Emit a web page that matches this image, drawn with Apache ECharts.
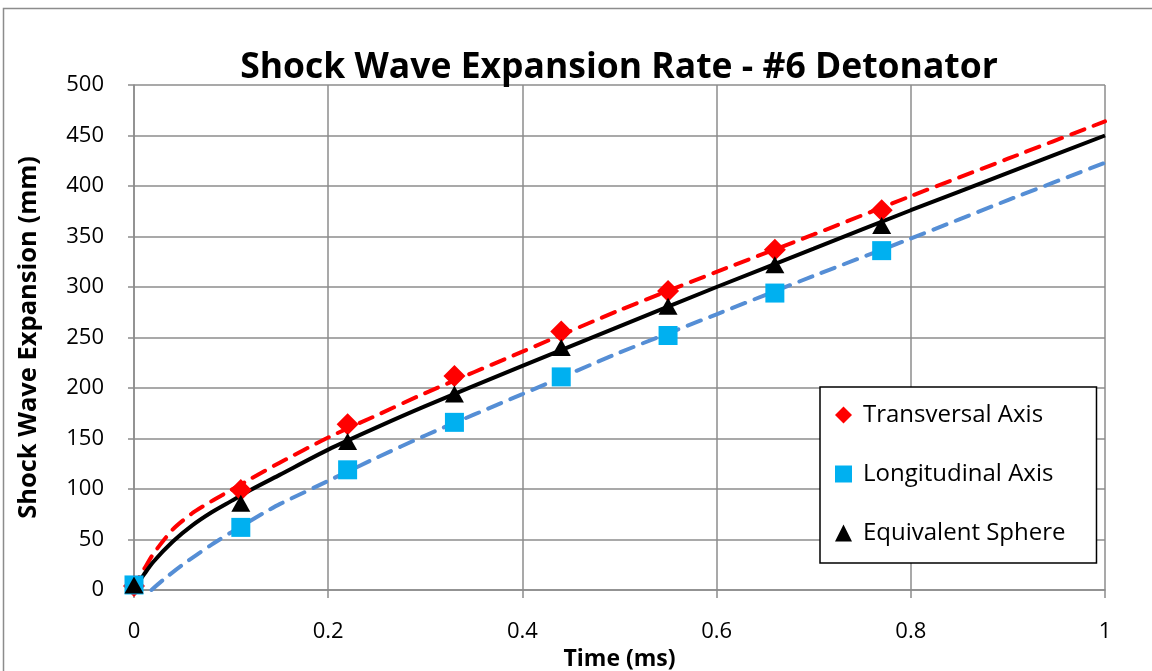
<!DOCTYPE html>
<html>
<head>
<meta charset="utf-8">
<script src="https://cdn.jsdelivr.net/npm/echarts@6/dist/echarts.min.js"></script>
<style>
html, body { margin: 0; padding: 0; background: #fff; }
#main { width: 1152px; height: 671px; }
</style>
</head>
<body>
<div id="main"></div>
<script>
var dom = document.getElementById("main");
var myChart = echarts.init(dom);

// measured points (time in ms)
var times = [0, 0.11, 0.22, 0.33, 0.44, 0.55, 0.66, 0.77];
var transversal = [4, 99, 164, 212, 256, 296, 337, 376];
var longitudinal = [5, 62, 119, 166, 211, 252, 294, 336];
var sphere = [5, 86, 147, 194, 240, 281, 322, 361];

// trend lines as [time, mm]
var trendTransversal = [[0, 0], [0.005, 12], [0.01, 20], [0.02, 36], [0.04, 60], [0.06, 76], [0.08, 88], [0.1, 99], [0.12, 110], [0.15, 126], [0.2, 151], [0.25, 173], [0.3, 195], [0.4, 236], [0.5, 277], [0.6, 315], [0.7, 352], [0.8, 390], [0.9, 427], [1, 464]];
var trendLongitudinal = [[0.018, 0], [0.03, 10], [0.05, 25], [0.08, 45], [0.1, 57], [0.133, 76], [0.15, 85], [0.2, 108], [0.25, 131], [0.3, 153], [0.4, 194], [0.5, 235], [0.6, 273], [0.7, 311], [0.8, 348], [0.9, 386], [1, 423]];
var trendSphere = [[0, 0], [0.005, 8], [0.01, 15], [0.02, 28], [0.04, 48], [0.06, 64], [0.08, 77], [0.1, 88], [0.12, 99], [0.15, 114], [0.2, 139], [0.25, 161], [0.3, 182], [0.4, 222], [0.5, 261], [0.6, 300], [0.7, 338], [0.8, 376], [0.9, 413], [1, 450]];

var seriesNames = ['Transversal Axis', 'Longitudinal Axis', 'Equivalent Sphere'];

function pairs(xs, ys) {
    return xs.map(function (x, i) { return [x, ys[i]]; });
}

var font = 'Open Sans';
var gridColor = '#8c8c8c';

option = {
    backgroundColor: '#fff',
    animation: false,
    title: {
        text: 'Shock Wave Expansion Rate - #6 Detonator',
        left: 614,
        textAlign: 'center',
        top: 45,
        textStyle: { fontFamily: font, fontWeight: 'bold', fontSize: 35.5, color: '#000' }
    },
    graphic: [{
        type: 'rect',
        shape: { x: 3.5, y: 8.5, width: 1170, height: 700 },
        style: { fill: 'none', stroke: '#8c8c8c', lineWidth: 1.5 },
        silent: true
    }],
    legend: {
        orient: 'vertical',
        left: 820,
        top: 387,
        padding: [16, 31, 18, 15],
        itemGap: 35,
        itemWidth: 17,
        itemHeight: 17,
        borderColor: '#000',
        borderWidth: 1.5,
        backgroundColor: '#fff',
        textStyle: { fontFamily: font, fontSize: 24, color: '#000', padding: [0, 0, 0, 6] },
        data: [
            { name: seriesNames[0], icon: 'diamond' },
            { name: seriesNames[1], icon: 'rect' },
            { name: seriesNames[2], icon: 'triangle' }
        ]
    },
    grid: { left: 134, right: 47, top: 85, bottom: 81, outerBoundsMode: 'none', containLabel: false },
    xAxis: {
        type: 'value',
        min: 0,
        max: 1,
        interval: 0.2,
        name: 'Time (ms)',
        nameLocation: 'middle',
        nameGap: 46,
        nameTextStyle: { fontFamily: font, fontWeight: 'bold', fontSize: 23, color: '#000' },
        axisLine: { show: true, lineStyle: { color: gridColor, width: 1.5 } },
        axisTick: { show: true, length: 8, lineStyle: { color: gridColor, width: 1.5 } },
        axisLabel: { fontFamily: font, fontSize: 22, color: '#000', margin: 31 },
        splitLine: { show: true, lineStyle: { color: gridColor, width: 1.5 } }
    },
    yAxis: {
        type: 'value',
        min: 0,
        max: 500,
        interval: 50,
        name: 'Shock Wave Expansion (mm)',
        nameLocation: 'middle',
        nameGap: 92,
        nameTextStyle: { fontFamily: font, fontWeight: 'bold', fontSize: 25.5, color: '#000' },
        axisLine: { show: true, lineStyle: { color: gridColor, width: 1.5 } },
        axisTick: { show: true, length: 6, lineStyle: { color: gridColor, width: 1.5 } },
        axisLabel: { fontFamily: font, fontSize: 22, color: '#000', margin: 30 },
        splitLine: { show: true, lineStyle: { color: gridColor, width: 1.5 } }
    },
    series: [
        {
            name: 'trend-longitudinal',
            type: 'line',
            smooth: 0.25,
            showSymbol: false,
            z: 2,
            lineStyle: { color: '#558ED5', width: 4, type: [14, 10], cap: 'round' },
            data: trendLongitudinal
        },
        {
            name: 'trend-transversal',
            type: 'line',
            smooth: 0.25,
            showSymbol: false,
            z: 2,
            lineStyle: { color: '#FF0000', width: 4, type: [14, 10], cap: 'round' },
            data: trendTransversal
        },
        {
            name: 'trend-sphere',
            type: 'line',
            smooth: 0.25,
            showSymbol: false,
            z: 2,
            lineStyle: { color: '#000', width: 4 },
            data: trendSphere
        },
        {
            name: seriesNames[0],
            type: 'scatter',
            symbol: 'diamond',
            symbolSize: 22,
            z: 3,
            itemStyle: { color: '#FF0000', opacity: 1 },
            data: pairs(times, transversal)
        },
        {
            name: seriesNames[1],
            type: 'scatter',
            symbol: 'rect',
            symbolSize: 19,
            z: 3,
            itemStyle: { color: '#00B0F0', opacity: 1 },
            data: pairs(times, longitudinal)
        },
        {
            name: seriesNames[2],
            type: 'scatter',
            symbol: 'triangle',
            symbolSize: [19, 17],
            z: 4,
            itemStyle: { color: '#000', opacity: 1 },
            data: pairs(times, sphere)
        }
    ]
};

if (option && typeof option === "object") {
    myChart.setOption(option, true);
}
</script>
</body>
</html>
